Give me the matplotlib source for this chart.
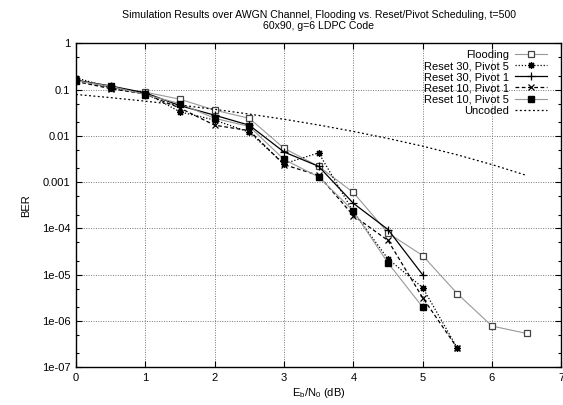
import matplotlib
matplotlib.use("Agg")
import matplotlib.pyplot as plt
from matplotlib.ticker import FixedLocator, NullFormatter

plt.rcParams['font.family'] = ['Liberation Sans', 'DejaVu Sans']
plt.rcParams['mathtext.fontset'] = 'custom'
plt.rcParams['mathtext.rm'] = 'Liberation Sans'
plt.rcParams['mathtext.default'] = 'regular'

# Eb/N0 points (dB)
snr = [0, 0.5, 1, 1.5, 2, 2.5, 3, 3.5, 4, 4.5, 5, 5.5, 6, 6.5]

flooding = [0.16, 0.11, 0.088, 0.062, 0.036, 0.024, 0.0054, 0.0022,
            0.0006, 8e-5, 2.6e-5, 3.9e-6, 7.8e-7, 5.4e-7]
r30_p5 = [0.18, 0.11, 0.085, 0.033, 0.022, 0.012, 0.0025, 0.0043,
          2.3e-4, 2.2e-5, 5.3e-6, 2.6e-7]
r30_p1 = [0.16, 0.12, 0.085, 0.045, 0.028, 0.017, 0.0045, 0.0022,
          3.5e-4, 9.5e-5, 1.0e-5]
r10_p1 = [0.15, 0.105, 0.08, 0.04, 0.017, 0.013, 0.0024, 0.0014,
          1.9e-4, 5.5e-5, 3.2e-6, 2.6e-7]
r10_p5 = [0.156, 0.118, 0.078, 0.05, 0.024, 0.016, 0.0031, 0.0013,
          2.4e-4, 1.8e-5, 2e-6]
uncoded = [0.0786, 0.0671, 0.0563, 0.0464, 0.0375, 0.0296, 0.0229, 0.0172,
           0.0125, 0.0088, 0.006, 0.0039, 0.0024, 0.0014]

ytick_vals = [1, 0.1, 0.01, 0.001, 1e-4, 1e-5, 1e-6, 1e-7]
ytick_labels = ['1', '0.1', '0.01', '0.001', '1e-04', '1e-05', '1e-06', '1e-07']
xtick_vals = [0, 1, 2, 3, 4, 5, 6, 7]

fig = plt.figure(figsize=(5.63, 4.05), dpi=100)
ax = fig.add_axes([0.135, 0.093, 0.862, 0.800])

ax.semilogy(snr[:len(flooding)], flooding, color='#999999', lw=0.8,
            marker='s', ms=4.3, mfc='white', mec='#444444', mew=0.9,
            label='Flooding')
ax.semilogy(snr[:len(r30_p5)], r30_p5, color='black', lw=0.9,
            ls=(0, (1, 1.5)), marker=(8, 2, 0), ms=5, mew=0.9,
            label='Reset 30, Pivot 5')
ax.semilogy(snr[:len(r30_p1)], r30_p1, color='black', lw=0.9,
            marker='+', ms=5.5, mew=0.9, label='Reset 30, Pivot 1')
ax.semilogy(snr[:len(r10_p1)], r10_p1, color='black', lw=0.9,
            ls=(0, (3, 2)), marker='x', ms=4.2, mew=0.9,
            label='Reset 10, Pivot 1')
ax.semilogy(snr[:len(r10_p5)], r10_p5, color='#999999', lw=0.8,
            marker='s', ms=5, mfc='black', mec='black',
            label='Reset 10, Pivot 5')
ax.semilogy(snr[:len(uncoded)], uncoded, color='black', lw=0.9,
            ls=(0, (1.5, 2)), label='Uncoded')

ax.set_xlim(0, 7)
ax.set_ylim(1e-7, 1)
ax.set_xticks(xtick_vals)
ax.set_yticks(ytick_vals)
ax.set_yticklabels(ytick_labels)
minor = [m * 10.0 ** e for e in range(-7, 0) for m in (2, 5)]
ax.yaxis.set_minor_locator(FixedLocator(minor))
ax.yaxis.set_minor_formatter(NullFormatter())
ax.tick_params(which='both', direction='in', top=True, right=True,
               labelsize=8, width=0.8)
ax.tick_params(which='major', length=4, pad=4)
ax.tick_params(which='minor', length=2.5)
for s in ax.spines.values():
    s.set_linewidth(1.0)

ax.grid(True, which='major', color='#777777', ls=(0, (1, 1.5)), lw=0.7)

ax.set_xlabel(r'E$_b$/N$_0$ (dB)', fontsize=8, labelpad=2)
ax.set_ylabel('BER', fontsize=8, labelpad=8)
ax.set_title('Simulation Results over AWGN Channel, Flooding vs. Reset/Pivot '
             'Scheduling, t=500\n60x90, g=6 LDPC Code', fontsize=7.6,
             linespacing=1.1, pad=10.5)

ax.legend(loc='upper right', frameon=False, markerfirst=False, fontsize=8,
          handlelength=2.9, handletextpad=0.55, labelspacing=0.1,
          borderaxespad=0.3, borderpad=0.3,
          bbox_to_anchor=(0.985, 1.0))

fig.savefig('out.png', dpi=100)
